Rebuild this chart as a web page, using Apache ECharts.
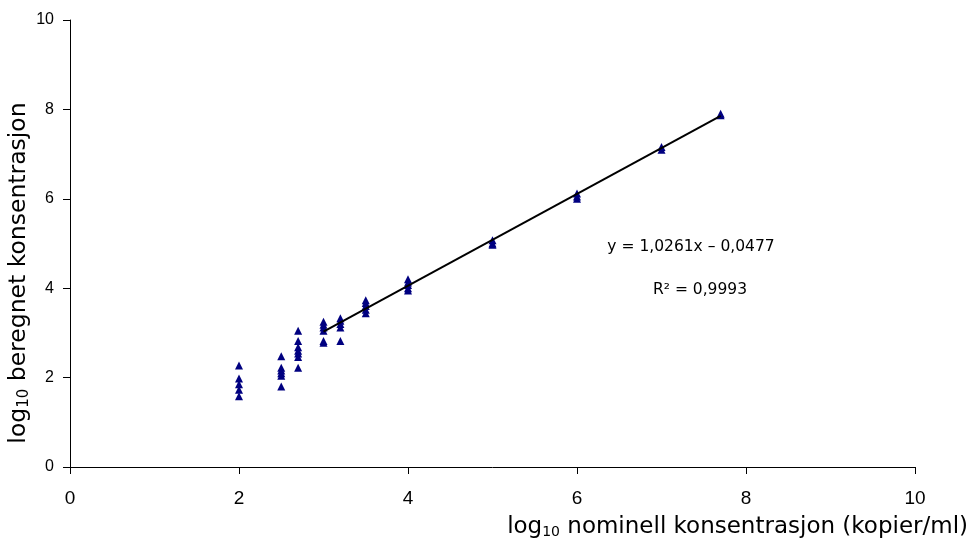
<!DOCTYPE html>
<html>
<head>
<meta charset="utf-8">
<script src="https://cdn.jsdelivr.net/npm/echarts@6/dist/echarts.min.js"></script>
<style>
  html, body { margin: 0; padding: 0; background: #fff; }
  #chart { width: 972px; height: 545px; }
</style>
</head>
<body>
<div id="chart"></div>
<script>
// nominal log10 concentrations, one entry per measurement
var xValues = [
  2, 2, 2, 2, 2,
  2.5, 2.5, 2.5, 2.5, 2.5, 2.5,
  2.7, 2.7, 2.7, 2.7, 2.7, 2.7, 2.7,
  3, 3, 3, 3, 3, 3,
  3.2, 3.2, 3.2, 3.2, 3.2,
  3.5, 3.5, 3.5, 3.5, 3.5,
  4, 4, 4, 4, 4,
  5, 5, 5,
  6, 6, 6,
  7, 7,
  7.7, 7.7
];
// calculated log10 concentrations
var yValues = [
  2.27, 1.98, 1.85, 1.73, 1.58,
  2.48, 2.22, 2.16, 2.10, 2.04, 1.80,
  3.05, 2.82, 2.68, 2.60, 2.54, 2.46, 2.22,
  3.25, 3.18, 3.12, 3.05, 2.82, 2.78,
  3.33, 3.27, 3.20, 3.12, 2.82,
  3.73, 3.67, 3.60, 3.52, 3.44,
  4.20, 4.13, 4.07, 4.00, 3.95,
  5.07, 5.00, 4.97,
  6.12, 6.05, 6.00,
  7.16, 7.10,
  7.90, 7.87
];
// trend line y = a*x + b, drawn over x range of the fit
var slope = 1.0261;
var intercept = -0.0477;
var rSquared = '0,9993';
var trendRange = [3, 7.7];
var xTicks = [0, 2, 4, 6, 8, 10];
var yTicks = [0, 2, 4, 6, 8, 10];

var chart = echarts.init(document.getElementById('chart'));

var points = xValues.map(function (x, i) { return [x, yValues[i]]; });
var trend = trendRange.map(function (x) { return [x, slope * x + intercept]; });

var tickFont = 'Liberation Sans, Arial, sans-serif';
var titleFont = 'DejaVu Sans, sans-serif';

function titleRich(size) {
  return {
    b: { fontSize: size, fontFamily: titleFont, fill: '#000' },
    s: { fontSize: Math.round(size * 0.62), fontFamily: titleFont, fill: '#000', verticalAlign: 'bottom', padding: [Math.round(size * 0.45), 0, 0, 0] }
  };
}

var option = {
  animation: false,
  grid: { left: 70, top: 20, right: 57, bottom: 78 },
  xAxis: {
    type: 'value',
    min: 0,
    max: 10,
    interval: 2,
    splitLine: { show: false },
    axisLine: { onZero: false, lineStyle: { color: '#000', width: 1 } },
    axisTick: { show: true, length: 7, lineStyle: { color: '#000' } },
    axisLabel: {
      margin: 22,
      color: '#000',
      fontSize: 19,
      fontFamily: tickFont,
      formatter: function (v) { return xTicks.indexOf(v) >= 0 ? String(v) : ''; }
    }
  },
  yAxis: {
    type: 'value',
    min: 0,
    max: 10,
    interval: 2,
    splitLine: { show: false },
    axisLine: { show: true, onZero: false, lineStyle: { color: '#000', width: 1 } },
    axisTick: { show: true, length: 7, lineStyle: { color: '#000' } },
    axisLabel: {
      margin: 16,
      color: '#000',
      fontSize: 16,
      fontFamily: tickFont,
      formatter: function (v) { return yTicks.indexOf(v) >= 0 ? String(v) : ''; }
    }
  },
  series: [
    {
      type: 'scatter',
      data: points,
      symbol: 'triangle',
      symbolSize: 8,
      itemStyle: { color: '#000080', opacity: 1 },
      z: 2
    },
    {
      type: 'line',
      data: trend,
      symbol: 'none',
      lineStyle: { color: '#000', width: 2 },
      z: 3
    }
  ],
  graphic: [
    {
      type: 'text',
      rotation: Math.PI / 2,
      x: 19, y: 273,
      style: {
        text: '{b|log}{s|10}{b| beregnet konsentrasjon}',
        align: 'center',
        verticalAlign: 'middle',
        rich: titleRich(23.5)
      }
    },
    {
      type: 'text',
      x: 968, y: 527,
      style: {
        text: '{b|log}{s|10}{b| nominell konsentrasjon (kopier/ml)}',
        align: 'right',
        verticalAlign: 'middle',
        rich: titleRich(23)
      }
    },
    {
      type: 'text',
      x: 691, y: 247,
      style: {
        text: 'y = ' + String(slope).replace('.', ',') + 'x \u2013 ' + String(-intercept).replace('.', ','),
        align: 'center',
        verticalAlign: 'middle',
        fontSize: 15.5,
        fontFamily: titleFont,
        fill: '#000'
      }
    },
    {
      type: 'text',
      x: 700, y: 290,
      style: {
        text: 'R\u00b2 = ' + rSquared,
        align: 'center',
        verticalAlign: 'middle',
        fontSize: 15.5,
        fontFamily: titleFont,
        fill: '#000'
      }
    }
  ]
};

chart.setOption(option);
</script>
</body>
</html>
